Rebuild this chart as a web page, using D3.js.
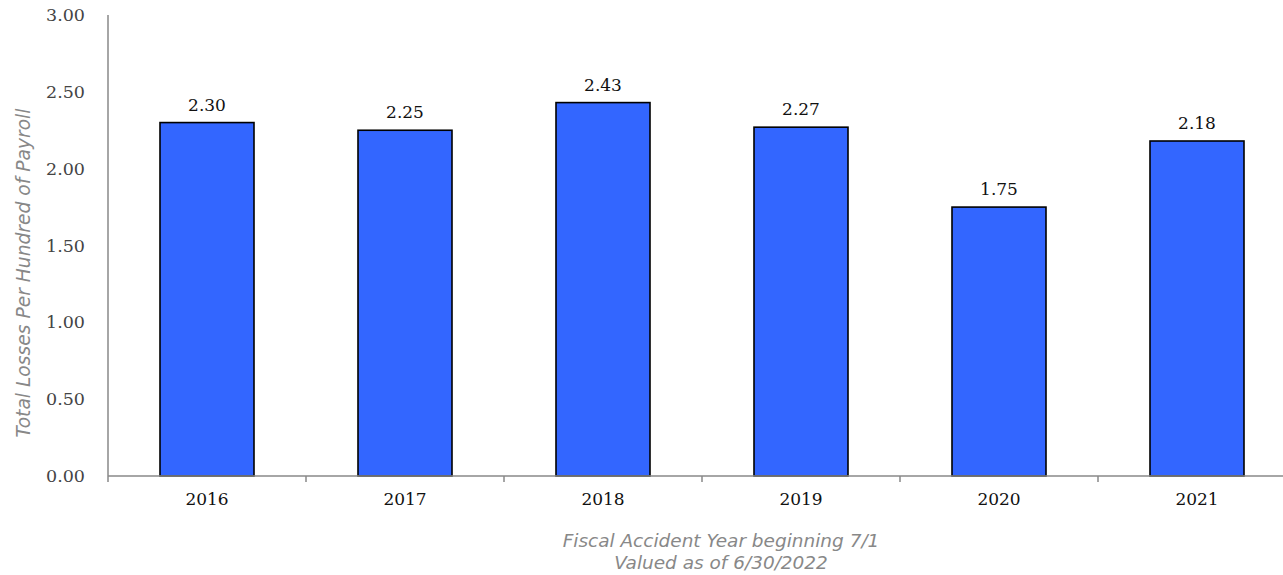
<!DOCTYPE html>
<html>
<head>
<meta charset="utf-8">
<script src="https://cdn.jsdelivr.net/npm/d3@7"></script>
<style>
  html, body { margin: 0; padding: 0; background: #fff; }
  svg { display: block; }
</style>
</head>
<body>
<svg id="chart" width="1283" height="575"></svg>
<script>
// Fiscal accident years and loss rate per $100 of payroll
const years = ["2016", "2017", "2018", "2019", "2020", "2021"];
const lossRates = [2.30, 2.25, 2.43, 2.27, 1.75, 2.18];
const yTicks = [0, 0.5, 1.0, 1.5, 2.0, 2.5, 3.0];

const svg = d3.select("#chart");
const plotLeft = 108, plotRight = 1296, plotTop = 15, plotBottom = 476;

const x = d3.scaleBand().domain(years).range([plotLeft, plotRight]).paddingInner(0).paddingOuter(0);
const y = d3.scaleLinear().domain([0, 3]).range([plotBottom, plotTop]);

const serif = "'DejaVu Serif', serif";
const sans = "'DejaVu Sans', Verdana, sans-serif";

// Scale a text node's font size so it spans the given width
function fitWidth(node, width) {
  const cur = parseFloat(node.getAttribute("font-size"));
  const w = node.getComputedTextLength();
  if (w > 0) node.setAttribute("font-size", (cur * width / w).toFixed(2));
}

// Bars
const barW = 94;
svg.append("g").selectAll("rect").data(years).join("rect")
  .attr("x", (d) => x(d) + x.bandwidth() / 2 - barW / 2)
  .attr("y", (d, i) => y(lossRates[i]))
  .attr("width", barW)
  .attr("height", (d, i) => y(0) - y(lossRates[i]))
  .attr("fill", "#3366FF")
  .attr("stroke", "#000")
  .attr("stroke-width", 1.6);

// Value labels
svg.append("g").selectAll("text").data(years).join("text")
  .attr("x", (d) => x(d) + x.bandwidth() / 2)
  .attr("y", (d, i) => y(lossRates[i]) - 12)
  .attr("text-anchor", "middle")
  .attr("font-family", serif)
  .attr("font-size", 17)
  .attr("fill", "#111")
  .text((d, i) => lossRates[i].toFixed(2));

// Y axis
const yAxis = svg.append("g").attr("transform", `translate(${plotLeft},0)`)
  .call(d3.axisLeft(y).tickValues(yTicks).tickFormat(d3.format(".2f")).tickSize(0).tickPadding(23));
yAxis.select(".domain").attr("stroke", "#888").attr("stroke-width", 1.5)
  .attr("d", `M0,${plotTop}V${plotBottom + 6}`);
yAxis.selectAll("text").attr("font-family", serif).attr("font-size", 17.5).attr("fill", "#444");

// X axis
const xAxis = svg.append("g").attr("transform", `translate(0,${plotBottom})`)
  .call(d3.axisBottom(x).tickSize(0).tickPadding(17));
xAxis.select(".domain").attr("stroke", "#888").attr("stroke-width", 1.5)
  .attr("d", `M${plotLeft},0H${plotRight}`);
xAxis.selectAll("text").attr("font-family", serif).attr("font-size", 17).attr("fill", "#111");
// Category separators
svg.append("g").selectAll("line").data(years.slice(1)).join("line")
  .attr("x1", (d) => x(d)).attr("x2", (d) => x(d))
  .attr("y1", plotBottom).attr("y2", plotBottom + 6)
  .attr("stroke", "#888").attr("stroke-width", 1.5);

// Axis titles
const yTitle = svg.append("text")
  .attr("transform", `translate(30,273) rotate(-90)`)
  .attr("text-anchor", "middle")
  .attr("font-family", sans).attr("font-style", "italic")
  .attr("font-size", 16).attr("fill", "#888")
  .text("Total Losses Per Hundred of Payroll");
fitWidth(yTitle.node(), 329);

const xt = svg.append("text")
  .attr("text-anchor", "middle")
  .attr("font-family", sans).attr("font-style", "italic")
  .attr("font-size", 16).attr("fill", "#888");
const xt1 = xt.append("tspan").attr("x", 721).attr("y", 547).text("Fiscal Accident Year beginning 7/1");
xt.append("tspan").attr("x", 721).attr("y", 569).text("Valued as of 6/30/2022");
{
  const w = xt1.node().getComputedTextLength();
  if (w > 0) xt.attr("font-size", (16 * 317 / w).toFixed(2));
}
</script>
</body>
</html>
